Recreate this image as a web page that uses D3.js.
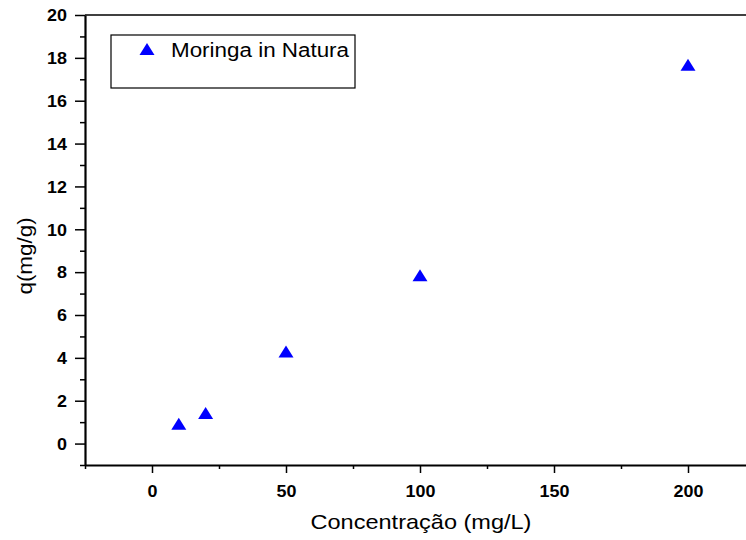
<!DOCTYPE html>
<html>
<head>
  <meta charset="utf-8">
  <title>q vs Concentração</title>
  <script src="https://cdn.jsdelivr.net/npm/d3@7/dist/d3.min.js"></script>
  <style>
    body { margin: 0; background: #fff; }
    text { font-family: "Liberation Sans", Arial, sans-serif; }
  </style>
</head>
<body>
<script>
// data
var concentracao = [10, 20, 50, 100, 200];
var qValues = [0.93, 1.43, 4.3, 7.85, 17.68];
var seriesName = "Moringa in Natura";
var xMajorTicks = [0, 50, 100, 150, 200];
var xMinorTicks = [-25, 25, 75, 125, 175, 225];
var yMajorTicks = [0, 2, 4, 6, 8, 10, 12, 14, 16, 18, 20];
var yMinorTicks = [-1, 1, 3, 5, 7, 9, 11, 13, 15, 17, 19];

var w = 746, h = 540;
var plotLeft = 85, plotTop = 15, plotRight = 755, plotBottom = 465;
var stretch = 1.12; // reference text is a bit wide

var svg = d3.select("body").append("svg")
  .attr("width", w)
  .attr("height", h);

var x = d3.scaleLinear().domain([-25, 225]).range([plotLeft, plotRight]);
var y = d3.scaleLinear().domain([-1, 20]).range([plotBottom, plotTop]);

// frame line on top
svg.append("line")
  .attr("x1", plotLeft).attr("x2", plotRight)
  .attr("y1", plotTop).attr("y2", plotTop)
  .attr("stroke", "#000").attr("stroke-width", 1.3);

// minor ticks
svg.append("g")
  .attr("transform", "translate(0," + plotBottom + ")")
  .call(d3.axisBottom(x).tickValues(xMinorTicks).tickSize(4).tickFormat(""))
  .call(function(g) { g.select(".domain").remove(); })
  .selectAll("line").attr("stroke-width", 1.5);

svg.append("g")
  .attr("transform", "translate(" + plotLeft + ",0)")
  .call(d3.axisLeft(y).tickValues(yMinorTicks).tickSize(5).tickFormat(""))
  .call(function(g) { g.select(".domain").remove(); })
  .selectAll("line").attr("stroke-width", 1.5);

// major axes
var xAxis = svg.append("g")
  .attr("transform", "translate(0," + plotBottom + ")")
  .call(d3.axisBottom(x).tickValues(xMajorTicks).tickSize(8).tickSizeOuter(0).tickPadding(13));

var yAxis = svg.append("g")
  .attr("transform", "translate(" + plotLeft + ",0)")
  .call(d3.axisLeft(y).tickValues(yMajorTicks).tickSize(10).tickSizeOuter(0).tickPadding(8));

[xAxis, yAxis].forEach(function(g) {
  g.select(".domain").attr("stroke-width", 2.2);
  g.selectAll(".tick line").attr("stroke-width", 1.5);
  g.selectAll(".tick text")
    .attr("font-size", 16)
    .attr("font-weight", "bold")
    .attr("fill", "#000")
    .attr("font-family", "'Liberation Sans', Arial, sans-serif");
});
yAxis.selectAll(".tick text").attr("dy", "0.36em");

// triangle marker, centred on its bounding box
function triangle(cx, cy) {
  return "M" + cx + "," + (cy - 6) + "L" + (cx + 7.5) + "," + (cy + 6) + "L" + (cx - 7.5) + "," + (cy + 6) + "Z";
}

svg.selectAll("path.pt")
  .data(concentracao)
  .enter()
  .append("path")
  .attr("class", "pt")
  .attr("d", function(d, i) { return triangle(x(d), y(qValues[i])); })
  .attr("fill", "#0000ff");

// legend
svg.append("rect")
  .attr("x", 111).attr("y", 35)
  .attr("width", 244).attr("height", 53)
  .attr("fill", "#fff")
  .attr("stroke", "#000").attr("stroke-width", 1.2);
svg.append("path")
  .attr("d", triangle(147, 49))
  .attr("fill", "#0000ff");
svg.append("text")
  .attr("x", 171).attr("y", 57)
  .attr("font-size", 20)
  .attr("fill", "#000")
  .text(seriesName);

// axis titles
svg.append("text")
  .attr("x", 421).attr("y", 529)
  .attr("text-anchor", "middle")
  .attr("font-size", 21)
  .attr("fill", "#000")
  .text("Concentração (mg/L)");

svg.append("text")
  .attr("transform", "translate(32,256) rotate(-90)")
  .attr("text-anchor", "middle")
  .attr("font-size", 20)
  .attr("fill", "#000")
  .text("q(mg/g)");

// widen all text a little to match the reference
svg.selectAll("text").each(function() {
  var len = this.getComputedTextLength();
  if (len > 0) {
    d3.select(this)
      .attr("textLength", len * stretch)
      .attr("lengthAdjust", "spacingAndGlyphs");
  }
});
</script>
</body>
</html>
